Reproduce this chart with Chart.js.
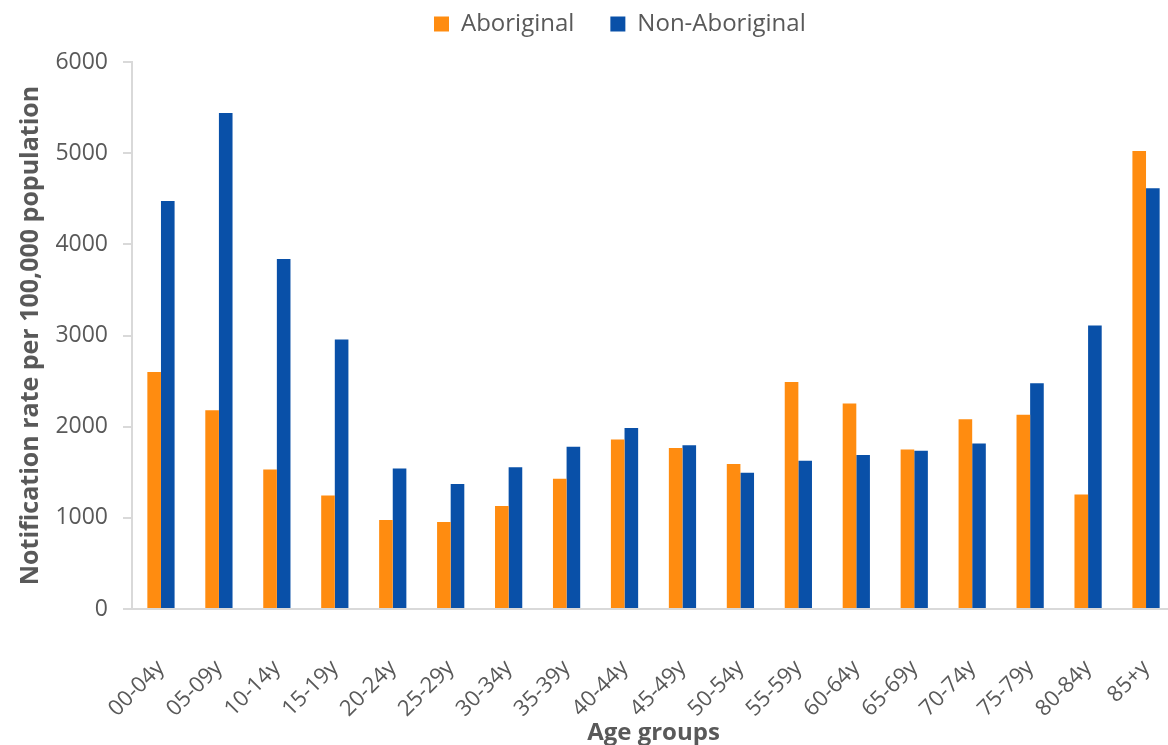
<!DOCTYPE html>
<html>
<head>
<meta charset="utf-8">
<title>Notification rate by age group</title>
<script src="https://cdn.jsdelivr.net/npm/chart.js@4.4.1/dist/chart.umd.min.js"></script>
<style>
  html, body { margin: 0; padding: 0; background: #ffffff; overflow: hidden; }
  #wrap { width: 1168px; height: 745px; overflow: hidden; position: relative; }
  canvas { display: block; }
</style>
</head>
<body>
<div id="wrap"><canvas id="chart" width="1180" height="745"></canvas></div>
<script>
// Age groups along the horizontal axis
const ageGroups = ['00-04y', '05-09y', '10-14y', '15-19y', '20-24y', '25-29y', '30-34y', '35-39y', '40-44y',
                   '45-49y', '50-54y', '55-59y', '60-64y', '65-69y', '70-74y', '75-79y', '80-84y', '85+y'];

// Notification rate per 100,000 population
const aboriginalRates    = [2600, 2180, 1530, 1245, 975, 955, 1130, 1430, 1860,
                            1765, 1590, 2490, 2255, 1750, 2080, 2130, 1255, 5025];
const nonAboriginalRates = [4475, 5440, 3840, 2955, 1540, 1370, 1555, 1780, 1985,
                            1795, 1495, 1625, 1690, 1735, 1815, 2475, 3110, 4615];

// Value axis tick labels
const rateTicks = [0, 1000, 2000, 3000, 4000, 5000, 6000];

const seriesNames = ['Aboriginal', 'Non-Aboriginal'];
const axisTitles = { x: 'Age groups', y: 'Notification rate per 100,000 population' };

const TEXT_GREY = '#595959';
const AXIS_GREY = '#D9D9D9';
const FONT = "'Open Sans', 'DejaVu Sans', sans-serif";

Chart.defaults.font.family = FONT;
Chart.defaults.color = TEXT_GREY;

// Places the legend row in the header band above the plot
const legendPlacement = {
  id: 'legendPlacement',
  afterLayout(chart) {
    const lg = chart.legend;
    if (!lg) return;
    const shiftY = -24;
    lg.top += shiftY;
    lg.bottom += shiftY;
    lg.left = 398;
  }
};

new Chart(document.getElementById('chart'), {
  type: 'bar',
  data: {
    labels: ageGroups,
    datasets: [
      { label: seriesNames[0], data: aboriginalRates, backgroundColor: '#FF8C10', borderWidth: 0 },
      { label: seriesNames[1], data: nonAboriginalRates, backgroundColor: '#0950A8', borderWidth: 0 }
    ]
  },
  plugins: [legendPlacement],
  options: {
    responsive: false,
    animation: false,
    devicePixelRatio: 1,
    layout: { padding: { top: 0, left: 0, right: 5, bottom: 0 } },
    datasets: { bar: { categoryPercentage: 0.47, barPercentage: 1.0 } },
    plugins: {
      tooltip: { enabled: false },
      legend: {
        position: 'top',
        align: 'start',
        maxHeight: 62,
        labels: {
          boxWidth: 15,
          boxHeight: 15,
          padding: 36,
          color: TEXT_GREY,
          font: { size: 24, family: FONT }
        }
      }
    },
    scales: {
      x: {
        grid: { display: false, drawTicks: false },
        border: { display: true, color: AXIS_GREY, width: 2 },
        ticks: {
          autoSkip: false,
          minRotation: 45,
          maxRotation: 45,
          padding: 46,
          color: TEXT_GREY,
          font: { size: 22, family: FONT }
        },
        title: {
          display: true,
          text: axisTitles.x,
          color: TEXT_GREY,
          font: { size: 24, weight: 'bold', family: FONT },
          padding: { top: 0, bottom: -3 }
        },
        afterFit(scale) {
          scale.height = 136;
          scale.paddingLeft = 0;
          scale.paddingRight = 0;
        }
      },
      y: {
        min: rateTicks[0],
        max: rateTicks[rateTicks.length - 1],
        afterBuildTicks(scale) { scale.ticks = rateTicks.map(v => ({ value: v })); },
        grid: {
          drawOnChartArea: false,
          drawTicks: true,
          tickLength: 9,
          color: AXIS_GREY,
          lineWidth: 2
        },
        border: { display: true, color: AXIS_GREY, width: 2 },
        ticks: {
          padding: 15,
          color: TEXT_GREY,
          font: { size: 23, family: FONT },
          callback: (value) => String(value)
        },
        title: {
          display: true,
          text: axisTitles.y,
          color: TEXT_GREY,
          font: { size: 25, weight: 'bold', family: FONT },
          padding: { top: 16, bottom: 0 }
        },
        afterFit(scale) { scale.width = 132; }
      }
    }
  }
});
</script>
</body>
</html>
